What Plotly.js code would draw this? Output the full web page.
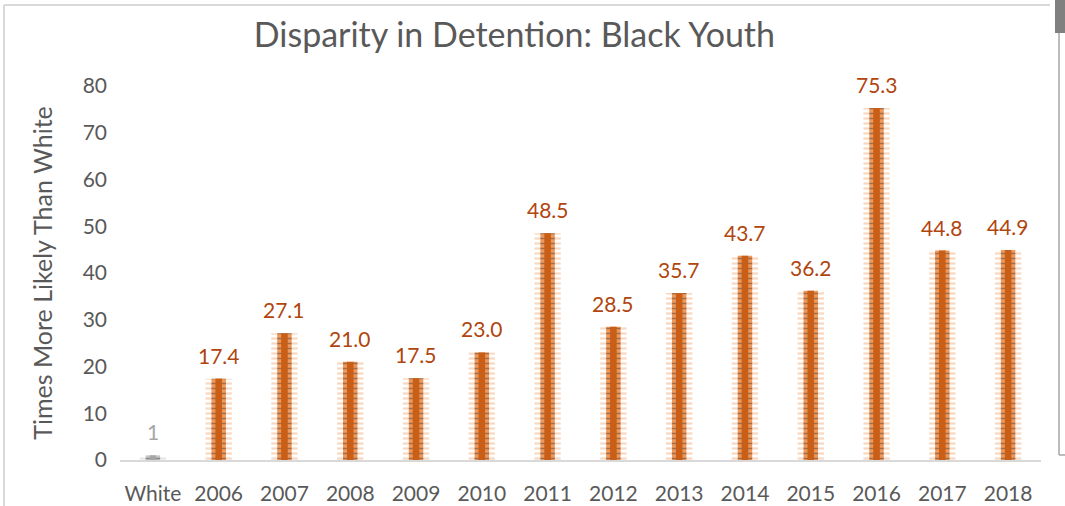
<!DOCTYPE html>
<html>
<head>
<meta charset="utf-8">
<script src="https://cdn.plot.ly/plotly-3.0.1.min.js"></script>
<style>
  html, body { margin: 0; padding: 0; background: #fff; }
  #chart { width: 1065px; height: 506px; }
</style>
</head>
<body>
<div id="chart"></div>
<script>
// chart data
const categories = ['White', '2006', '2007', '2008', '2009', '2010', '2011', '2012', '2013', '2014', '2015', '2016', '2017', '2018']
const values = [1, 17.4, 27.1, 21.0, 17.5, 23.0, 48.5, 28.5, 35.7, 43.7, 36.2, 75.3, 44.8, 44.9]
const labels = ['1', '17.4', '27.1', '21.0', '17.5', '23.0', '48.5', '28.5', '35.7', '43.7', '36.2', '75.3', '44.8', '44.9']

const FONT = 'Lato, "Open Sans", sans-serif'
const W = 1065, H = 506
const margin = { l: 120, r: 24, t: 86, b: 46 }

// pixel -> paper coords for the frame decorations
const plotW = W - margin.l - margin.r
const plotH = H - margin.t - margin.b
const px = x => (x - margin.l) / plotW
const py = y => (H - margin.b - y) / plotH

const isWhite = categories.map(c => c === 'White')
const pick = (w, o) => isWhite.map(b => b ? w : o)

// outer feathered layer (pale, striped with white)
const outer = {
  x: categories, y: values, type: 'bar', width: 0.4,
  marker: {
    color: pick('#e6e6e6', '#fad7bf'),
    line: { width: 0 },
    pattern: { shape: '-', size: 5, solidity: 0.45, fgcolor: '#ffffff', bgcolor: pick('#e6e6e6', '#fad7bf'), fillmode: 'replace' }
  },
  hoverinfo: 'skip'
}
// middle layer, striped with pale orange
const middle = {
  x: categories, y: values, type: 'bar', width: 0.22,
  marker: {
    color: pick('#c8c8c8', '#f0985a'),
    line: { width: 0 },
    pattern: { shape: '-', size: 5, solidity: 0.3, fgcolor: pick('#ececec', '#fbe0cc'), fillmode: 'overlay' }
  },
  hoverinfo: 'skip'
}
// dark core
const core = {
  x: categories, y: values, type: 'bar', width: 0.1,
  marker: { color: pick('#a6a6a6', '#c95e16'), line: { width: 0 } },
  hovertemplate: '%{x}: %{y}<extra></extra>'
}

// category axis: annotations placed by category index
const annotations = categories.map((c, i) => ({
  x: i, y: values[i], xref: 'x', yref: 'y',
  text: labels[i], showarrow: false, yanchor: 'bottom', yshift: 9,
  font: { family: FONT, size: 21, color: isWhite[i] ? '#a6a6a6' : '#b0450e' }
}))

const line = (x0, y0, x1, y1, color, width) => ({
  type: 'line', xref: 'paper', yref: 'paper', layer: 'below',
  x0: px(x0), y0: py(y0), x1: px(x1), y1: py(y1),
  line: { color: color, width: width || 1 }
})

const shapes = [
  // chart frame
  line(4, 5, 1050, 5, '#d9d9d9', 2),
  line(4, 5, 4, 506, '#d9d9d9', 2),
  // neighbouring box on the right
  { type: 'rect', xref: 'paper', yref: 'paper', x0: px(1055), y0: py(0), x1: px(1065), y1: py(33),
    fillcolor: '#808080', line: { width: 0 } },
  line(1059, 33, 1059, 455, '#a6a6a6', 1.5),
  line(1059, 455, 1065, 455, '#a6a6a6', 1.5)
]

const layout = {
  width: W, height: H, margin: margin,
  paper_bgcolor: '#fff', plot_bgcolor: '#fff',
  barmode: 'overlay', showlegend: false,
  title: {
    text: 'Disparity in Detention: Black Youth',
    font: { family: FONT, size: 34, color: '#595959' },
    x: 0.483, xanchor: 'center', y: 0.93, yanchor: 'middle'
  },
  xaxis: {
    type: 'category', range: [-0.5, categories.length - 0.5],
    tickfont: { family: FONT, size: 21, color: '#595959' }, ticklabelstandoff: 14,
    showline: true, linecolor: '#d9d9d9', linewidth: 2, ticks: '', showgrid: false, zeroline: false
  },
  yaxis: {
    range: [0, 80], dtick: 10, showgrid: false, zeroline: false, showline: false,
    tickfont: { family: FONT, size: 21, color: '#595959' }, ticks: '', ticklabelstandoff: 12,
    title: { text: 'Times More Likely Than White', font: { family: FONT, size: 25, color: '#595959' }, standoff: 22 }
  },
  annotations: annotations,
  shapes: shapes
}

Plotly.newPlot('chart', [outer, middle, core], layout, { displayModeBar: false, staticPlot: true })
</script>
</body>
</html>
